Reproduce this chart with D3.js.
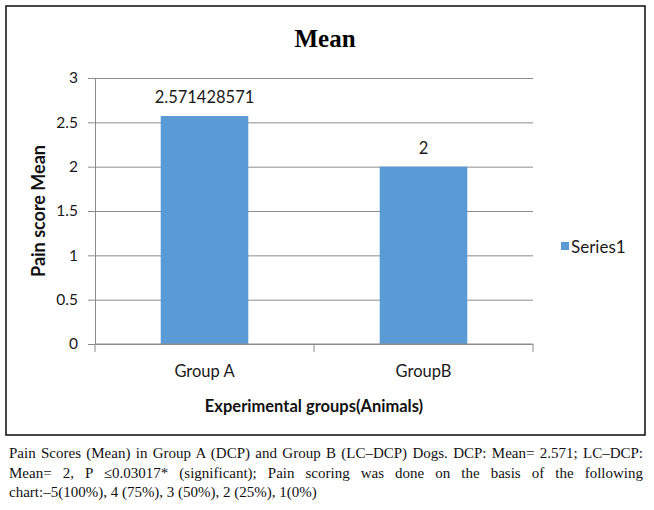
<!DOCTYPE html>
<html>
<head>
<meta charset="utf-8">
<script src="https://cdn.jsdelivr.net/npm/d3@7"></script>
<style>
  body { margin: 0; background: #fff; }
  #chart { position: relative; width: 654px; height: 510px; }
  svg { position: absolute; left: 0; top: 0; }
  .caption {
    position: absolute; left: 9px; top: 444px; width: 634px;
    font: 15px "Liberation Serif", serif; color: #111; line-height: 19.5px;
  }
  .caption div { white-space: nowrap; text-align: justify; text-align-last: justify; }
  .caption div.last { text-align-last: left; }
</style>
</head>
<body>
<div id="chart"></div>
<script>
// data
const categories = ['Group A', 'GroupB'];
const meanValues = [2.571428571, 2];
const valueLabels = ['2.571428571', '2'];
const yTicks = [0, 0.5, 1, 1.5, 2, 2.5, 3];
const seriesName = 'Series1';
const captionLines = [
    'Pain Scores (Mean) in Group A (DCP) and Group B (LC\u2013DCP) Dogs. DCP: Mean= 2.571; LC\u2013DCP:',
    'Mean= 2, P \u22640.03017* (significant); Pain scoring was done on the basis of the following',
    'chart:\u20135(100%), 4 (75%), 3 (50%), 2 (25%), 1(0%)'
];

const margin = {left: 95, right: 121, top: 78, bottom: 166};
const width = 654, height = 510;
const sans = 'Lato, "Liberation Sans", sans-serif';

const svg = d3.select('#chart')
    .append('svg')
    .attr('width', width)
    .attr('height', height);

// outer box
svg.append('rect')
    .attr('x', 6).attr('y', 6)
    .attr('width', 639).attr('height', 429)
    .attr('fill', '#fff')
    .attr('stroke', '#1a1a1a')
    .attr('stroke-width', 1.6);

// title
svg.append('text')
    .attr('x', 325).attr('y', 47)
    .attr('text-anchor', 'middle')
    .style('font', 'bold 25px "Liberation Serif", serif')
    .text('Mean');

const x = d3.scaleBand()
    .domain(categories)
    .range([margin.left, width - margin.right])
    .paddingInner(0.6)
    .paddingOuter(0.3);

const y = d3.scaleLinear()
    .domain([0, 3])
    .range([344, margin.top]);

// grid lines
svg.append('g')
    .attr('transform', `translate(${margin.left},0)`)
    .call(d3.axisLeft(y).tickValues(yTicks).tickSize(-(x.range()[1] - x.range()[0])).tickFormat(''))
    .call(g => g.select('.domain').remove())
    .call(g => g.selectAll('.tick line').attr('stroke', '#8c8c8c'));

// y axis
svg.append('g')
    .attr('transform', `translate(${margin.left},0)`)
    .call(d3.axisLeft(y).tickValues(yTicks).tickSize(7).tickPadding(10).tickFormat(d3.format('')))
    .call(g => g.select('.domain').attr('stroke', '#8c8c8c'))
    .call(g => g.selectAll('.tick line').attr('stroke', '#8c8c8c'))
    .call(g => g.selectAll('.tick text').style('font', `15.5px ${sans}`).attr('fill', '#1a1a1a'));

// bars
svg.append('g')
    .selectAll('rect')
    .data(meanValues)
    .join('rect')
    .attr('x', (d, i) => x(categories[i]))
    .attr('y', d => y(d))
    .attr('width', x.bandwidth())
    .attr('height', d => y(0) - y(d))
    .attr('fill', '#5b9bd5');

// value labels
svg.append('g')
    .selectAll('text')
    .data(meanValues)
    .join('text')
    .attr('x', (d, i) => x(categories[i]) + x.bandwidth() / 2)
    .attr('y', d => y(d) - 13)
    .attr('text-anchor', 'middle')
    .style('font', `16.5px ${sans}`)
    .attr('fill', '#1a1a1a')
    .text((d, i) => valueLabels[i]);

// x axis line + boundary ticks
const xAxis = svg.append('g');
xAxis.append('line')
    .attr('x1', x.range()[0]).attr('x2', x.range()[1])
    .attr('y1', y(0)).attr('y2', y(0))
    .attr('stroke', '#8c8c8c');
const gap = (x.step() - x.bandwidth()) / 2;
const bounds = categories.map(c => x(c) - gap).concat([x(categories[categories.length - 1]) + x.bandwidth() + gap]);
xAxis.selectAll('.bt')
    .data(bounds)
    .join('line')
    .attr('class', 'bt')
    .attr('x1', d => d).attr('x2', d => d)
    .attr('y1', y(0)).attr('y2', y(0) + 8)
    .attr('stroke', '#8c8c8c');

// category labels
svg.append('g')
    .attr('transform', `translate(0,${y(0)})`)
    .call(d3.axisBottom(x).tickSize(0).tickPadding(0))
    .call(g => g.select('.domain').remove())
    .call(g => g.selectAll('.tick text')
        .attr('dy', null).attr('y', 33)
        .style('font', `16.5px ${sans}`).attr('fill', '#1a1a1a'));

// axis titles
svg.append('text')
    .attr('x', (x.range()[0] + x.range()[1]) / 2).attr('y', 412)
    .attr('text-anchor', 'middle')
    .style('font', `bold 16.5px ${sans}`)
    .attr('fill', '#111')
    .text('Experimental groups(Animals)');

svg.append('g')
    .attr('transform', `translate(45,${(y(0) + y(3)) / 2}) rotate(-90)`)
    .append('text')
    .attr('text-anchor', 'middle')
    .style('font', `bold 18px ${sans}`)
    .attr('fill', '#111')
    .text('Pain score Mean');

// legend
const legend = svg.append('g').attr('transform', 'translate(561,242)');
legend.append('rect').attr('width', 8).attr('height', 8).attr('fill', '#5b9bd5');
legend.append('text')
    .attr('x', 10).attr('y', 11)
    .style('font', `17px ${sans}`)
    .attr('fill', '#1a1a1a')
    .text(seriesName);

// caption
d3.select('#chart')
    .append('div')
    .attr('class', 'caption')
    .selectAll('div')
    .data(captionLines)
    .join('div')
    .attr('class', (d, i) => i === captionLines.length - 1 ? 'last' : null)
    .text(d => d);
</script>
</body>
</html>
